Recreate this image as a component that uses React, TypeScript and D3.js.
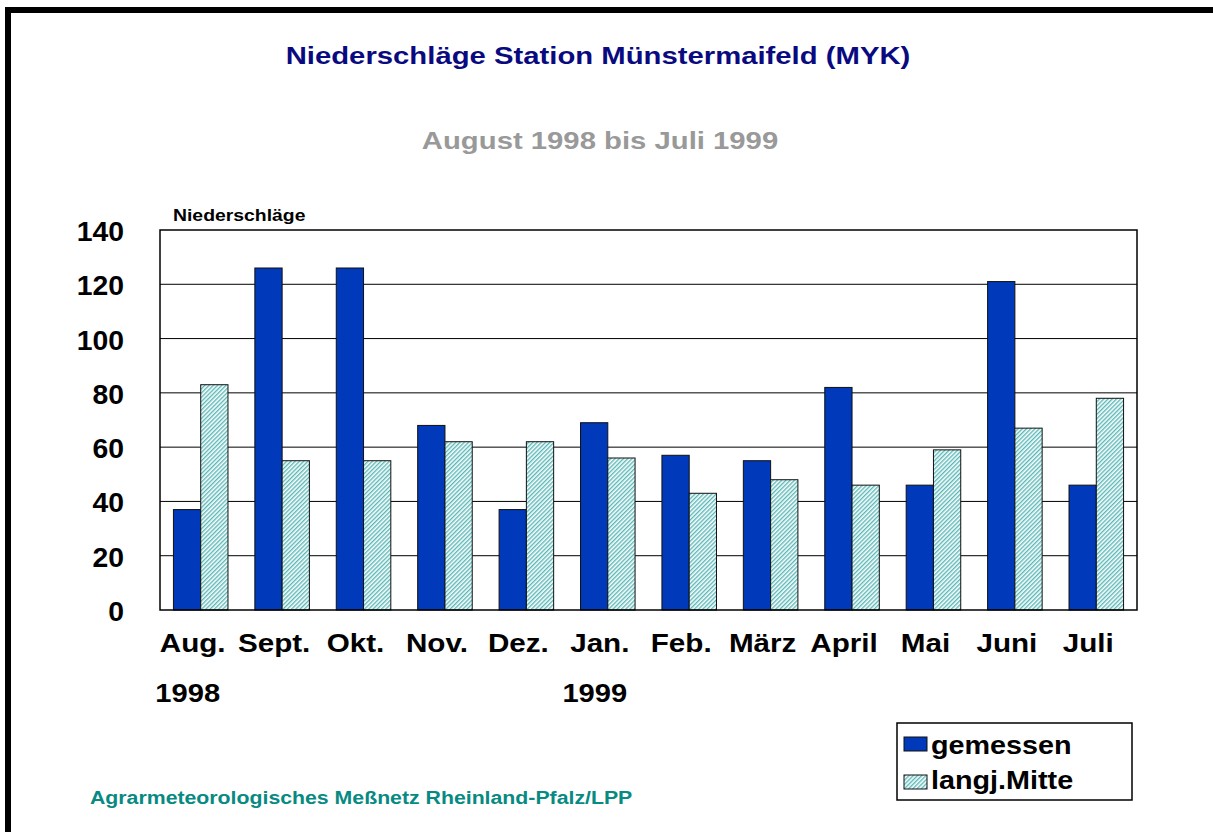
import { useEffect, useRef } from "react";
import * as d3 from "d3";

const months = ["Aug.", "Sept.", "Okt.", "Nov.", "Dez.", "Jan.", "Feb.", "März", "April", "Mai", "Juni", "Juli"];
const years = ["1998", "", "", "", "", "1999", "", "", "", "", "", ""];
const gemessen = [37, 126, 126, 68, 37, 69, 57, 55, 82, 46, 121, 46];
const langjMitte = [83, 55, 55, 62, 62, 56, 43, 48, 46, 59, 67, 78];
const yTicks = [0, 20, 40, 60, 80, 100, 120, 140];
const seriesNames = ["gemessen", "langj.Mitte"];

const W = 1213;
const H = 832;
const FONT = "'Liberation Sans', Arial, sans-serif";
const BLUE = "#0039b9";

export default function App() {
  const svgRef = useRef<SVGSVGElement>(null);

  useEffect(() => {
    const svg = d3.select(svgRef.current);
    svg.selectAll("*").remove();

    // text is a bit wider than normal in the original, so stretch it
    const label = (parent: any, x: number, y: number, size: number, sx: number, txt: string, fill = "#000", anchor = "start") =>
      parent.append("text")
        .attr("transform", `translate(${x},${y}) scale(${sx},1)`)
        .attr("text-anchor", anchor)
        .attr("font-family", FONT).attr("font-weight", "bold").attr("font-size", size)
        .attr("fill", fill)
        .text(txt);

    const defs = svg.append("defs");
    const pat = defs.append("pattern")
      .attr("id", "hatch")
      .attr("patternUnits", "userSpaceOnUse")
      .attr("width", 3)
      .attr("height", 3)
      .attr("patternTransform", "rotate(45)");
    pat.append("rect").attr("width", 3).attr("height", 3).attr("fill", "#ffffff");
    pat.append("rect").attr("width", 1.4).attr("height", 3).attr("fill", "#5ab8b8");

    // frame
    svg.append("rect")
      .attr("x", 8).attr("y", 10)
      .attr("width", W + 20).attr("height", H + 20)
      .attr("fill", "none").attr("stroke", "#000").attr("stroke-width", 6);

    const left = 160, right = 1137, top = 230, bottom = 610;

    const x = d3.scaleBand<string>().domain(months).range([left, right]).paddingInner(0.33).paddingOuter(0.165);
    const xs = d3.scaleBand<string>().domain(seriesNames).range([0, x.bandwidth()]);
    const y = d3.scaleLinear().domain([0, 140]).range([bottom, top]);

    // gridlines
    svg.append("g").selectAll("line")
      .data(yTicks.slice(1, -1))
      .join("line")
      .attr("x1", left).attr("x2", right)
      .attr("y1", d => y(d)).attr("y2", d => y(d))
      .attr("stroke", "#000").attr("stroke-width", 1);

    // bars
    const groups = svg.append("g").selectAll("g")
      .data(months)
      .join("g")
      .attr("transform", d => `translate(${x(d)},0)`);

    groups.append("rect")
      .attr("x", xs("gemessen")!)
      .attr("y", (d, i) => y(gemessen[i]))
      .attr("width", xs.bandwidth())
      .attr("height", (d, i) => bottom - y(gemessen[i]))
      .attr("fill", BLUE).attr("stroke", "#111").attr("stroke-width", 1);

    groups.append("rect")
      .attr("x", xs("langj.Mitte")!)
      .attr("y", (d, i) => y(langjMitte[i]))
      .attr("width", xs.bandwidth())
      .attr("height", (d, i) => bottom - y(langjMitte[i]))
      .attr("fill", "url(#hatch)").attr("stroke", "#111").attr("stroke-width", 1);

    // plot box
    svg.append("rect")
      .attr("x", left).attr("y", top)
      .attr("width", right - left).attr("height", bottom - top)
      .attr("fill", "none").attr("stroke", "#000").attr("stroke-width", 1.5);

    // y axis labels
    const yAx = svg.append("g");
    yTicks.forEach(t => label(yAx, 124, y(t) + 11, 27, 1.05, String(t), "#000", "end"));

    // x labels
    const xAx = svg.append("g");
    months.forEach((m, i) => {
      const cx = x(m)! + x.bandwidth() / 2;
      label(xAx, cx - 8, 652, 26, 1.14, m, "#000", "middle");
      if (years[i]) label(xAx, cx - 13, 702, 26, 1.12, years[i], "#000", "middle");
    });

    // titles
    label(svg, 598, 64, 24, 1.22, "Niederschläge Station Münstermaifeld (MYK)", "#0a0a80", "middle");
    label(svg, 600, 149, 24, 1.22, "August 1998 bis Juli 1999", "#999999", "middle");
    label(svg, 173, 221, 17, 1.14, "Niederschläge");
    label(svg, 90, 804, 19, 1.12, "Agrarmeteorologisches Meßnetz Rheinland-Pfalz/LPP", "#078a82");

    // legend
    const lg = svg.append("g").attr("transform", "translate(897,723)");
    lg.append("rect").attr("width", 235).attr("height", 77)
      .attr("fill", "#fff").attr("stroke", "#000").attr("stroke-width", 1.5);
    seriesNames.forEach((s, i) => {
      lg.append("rect")
        .attr("x", 7).attr("y", 14 + i * 38)
        .attr("width", 23).attr("height", 14)
        .attr("fill", i === 0 ? BLUE : "url(#hatch)")
        .attr("stroke", "#111").attr("stroke-width", 1);
      label(lg, 34, 31 + i * 35, 25, 1.15, s);
    });
  }, []);

  return (
    <svg ref={svgRef} width={W} height={H} style={{ position: "absolute", left: 0, top: 0, background: "#fff" }} />
  );
}
